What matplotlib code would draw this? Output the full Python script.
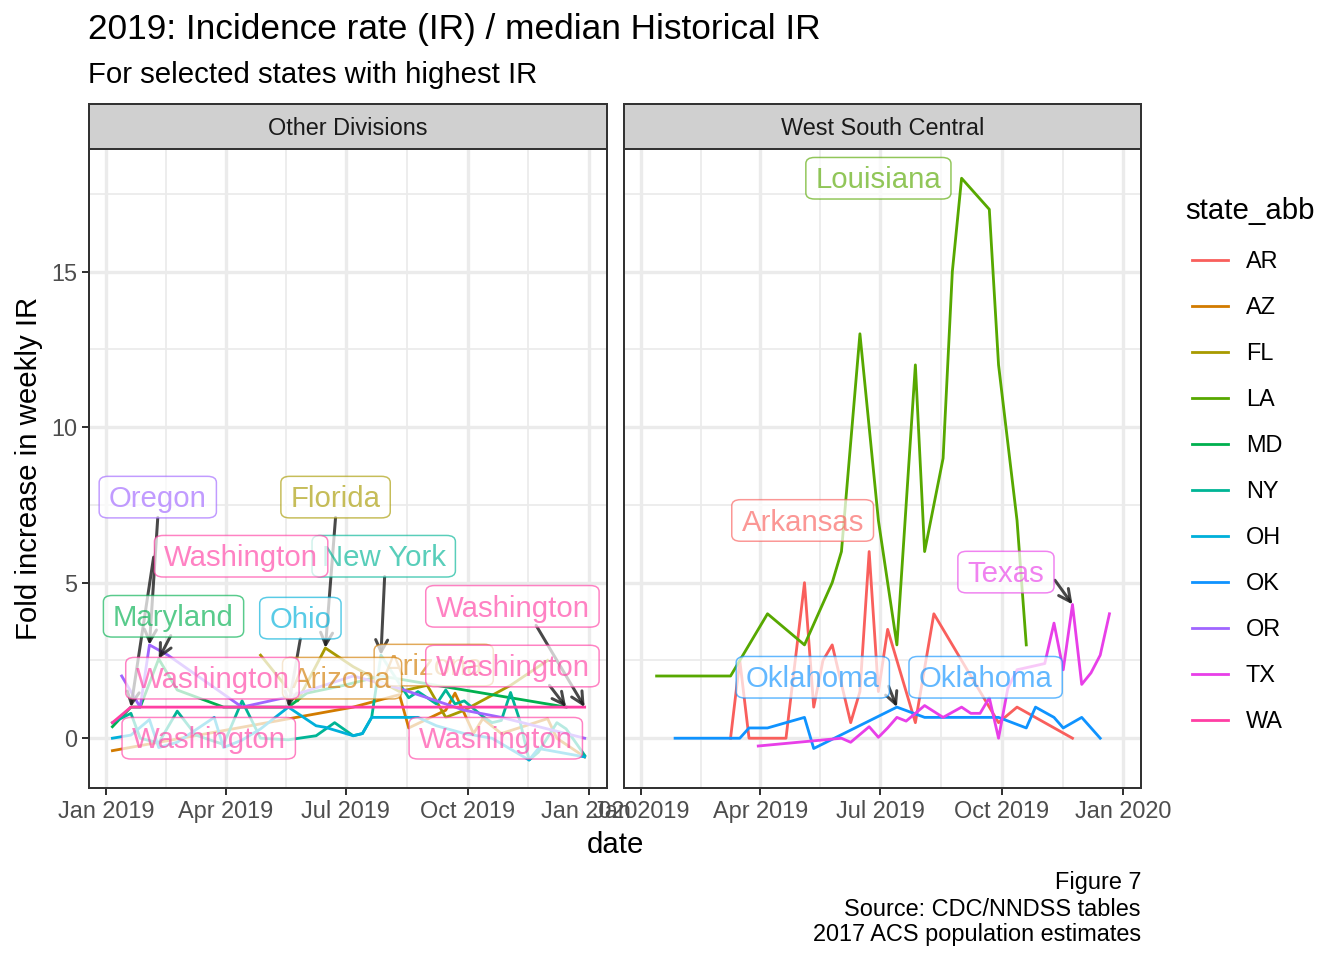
"""
2019 fold increase in weekly incidence rate, faceted by division.
"""

import matplotlib
matplotlib.use("Agg")
import matplotlib.dates as mdates
import matplotlib.pyplot as plt
import numpy as np
import pandas as pd
from matplotlib.colors import to_rgba
from matplotlib.lines import Line2D
from matplotlib.ticker import FixedLocator

plt.rcParams["font.family"] = ["Liberation Sans", "DejaVu Sans"]

# MMWR week numbers and values per state
az_weeks = [1, 27, 32, 33, 37, 38, 40, 41, 43, 48, 49, 52]
az_vals = [-0.4, 1.0, 1.4, 0.33, 0.9, 1.45, 0.15, 0.63, 0.15, 0.63, 0.0, -0.6]
fl_weeks = [17, 21, 24, 27, 32, 35, 37, 39, 44, 48]
fl_vals = [2.67, 1.2, 2.9, 2.3, 1.5, 1.7, 0.67, 0.9, 1.7, 2.5]
md_weeks = [1, 3, 4, 6, 8, 13, 15, 20, 22, 26, 30, 36, 50]
md_vals = [0.37, 1, 1, 2.55, 1.55, 1, 1, 1, 1.45, 1.7, 2, 1.7, 1]
ny_weeks = [1, 3, 4, 6, 8, 10, 13, 15, 17, 20, 23, 25, 27, 28, 29, 30, 32, 33, 34, 36, 37, 38, 39, 41, 42, 43, 44, 45, 46, 47, 49, 50, 52]
ny_vals = [0.5, 0.8, 0, -0.15, 0.87, 0.1, -0.2, 1.2, 0, -0.05, 0.08, 0.5, 0.08, 0.15, 0.67, 2.67, 1.75, 1.3, 1.5, 1.1, 1.55, 1.1, 1.2, 0.7, 0.5, 0.57, 1.47, 0.57, -0.7, -0.45, 0.5, 0.3, -0.55]
oh_weeks = [1, 3, 5, 6, 8, 12, 13, 15, 17, 20, 23, 24, 27, 28, 29, 34, 36, 39, 42, 46, 47, 52]
oh_vals = [0, 0.1, 0.6, -0.3, -0.13, 0.67, -0.3, -0.06, 0.3, 1, 0.4, 0.35, 0.08, 0.15, 0.67, 0.67, 0.4, 0.15, 0, -0.7, -0.33, -0.6]
or_weeks = [2, 4, 5, 7, 15, 20, 27, 32, 39, 43, 52]
or_vals = [2, 1, 3, 2.67, 1, 1.33, 2, 1.6, 0.9, 0.67, 0]
wa_weeks = [1, 3, 52]
wa_vals = [0.5, 1, 1]

ar_weeks = [10, 11, 12, 16, 18, 19, 20, 21, 23, 24, 25, 26, 27, 30, 32, 39, 41, 47]
ar_vals = [0, 2.5, 0, 0, 5, 1, 2.5, 3, 0.5, 1.5, 6, 1.5, 3.5, 0.5, 4, 0.5, 1, 0]
la_weeks = [2, 10, 14, 18, 21, 22, 24, 26, 28, 30, 31, 33, 34, 35, 38, 39, 41, 42]
la_vals = [2, 2, 4, 3, 5, 6, 13, 7, 3, 12, 6, 9, 15, 18, 17, 12, 7, 3]
ok_weeks = [4, 11, 12, 14, 18, 19, 28, 31, 39, 42, 43, 45, 46, 48, 50]
ok_vals = [0, 0, 0.33, 0.33, 0.67, -0.33, 1, 0.67, 0.67, 0.33, 1, 0.67, 0.33, 0.67, 0]
tx_weeks = [13, 22, 23, 25, 26, 27, 28, 29, 31, 33, 35, 36, 37, 38, 39, 40, 41, 44, 45, 46, 47, 48, 49, 50, 51]
tx_vals = [-0.25, 0, -0.13, 0.37, 0.03, 0.33, 0.67, 0.55, 1.05, 0.67, 1, 0.8, 0.8, 1.3, 0, 1.6, 2.2, 2.4, 3.7, 2.2, 4.3, 1.73, 2.1, 2.67, 4]

state_names = ["AR", "AZ", "FL", "LA", "MD", "NY", "OH", "OK", "OR", "TX", "WA"]
state_colors = ["#F95F5C", "#D27B00", "#A89A00", "#57A800", "#00B04F", "#00B596", "#00B0DA", "#0F93FF", "#A066FF", "#E83FE8", "#FF3FA4"]
color = dict(zip(state_names, state_colors))

left_series = [("AZ", az_weeks, az_vals), ("FL", fl_weeks, fl_vals), ("MD", md_weeks, md_vals),
               ("NY", ny_weeks, ny_vals), ("OH", oh_weeks, oh_vals), ("OR", or_weeks, or_vals),
               ("WA", wa_weeks, wa_vals)]
right_series = [("AR", ar_weeks, ar_vals), ("LA", la_weeks, la_vals), ("OK", ok_weeks, ok_vals),
                ("TX", tx_weeks, tx_vals)]

# label text, state, week, value (later labels cover earlier ones)
left_labels = [("Oregon", "OR", 5.9, 7.75), ("Florida", "FL", 25.1, 7.75),
               ("New York", "NY", 30.3, 5.85), ("Washington", "WA", 14.9, 5.85),
               ("Maryland", "MD", 7.6, 3.92), ("Ohio", "OH", 21.3, 3.86),
               ("Arizona", "AZ", 35.7, 2.35), ("Arizona", "AZ", 25.8, 1.93),
               ("Washington", "WA", 44.2, 4.24), ("Washington", "WA", 44.2, 2.32),
               ("Washington", "WA", 11.8, 1.93), ("Washington", "WA", 11.4, 0),
               ("Washington", "WA", 42.4, 0)]
right_labels = [("Louisiana", "LA", 26.0, 18.0), ("Arkansas", "AR", 17.8, 7.0),
                ("Oklahoma", "OK", 18.9, 1.96), ("Oklahoma", "OK", 37.6, 1.96),
                ("Texas", "TX", 39.8, 5.34)]

# arrow start week, start value, end week, end value
left_arrows = [(5.9, 7.1, 5, 3), (25.1, 7.1, 24, 2.9), (5.45, 5.82, 3, 1), (7.3, 3.3, 6, 2.55),
               (21.3, 3.2, 20, 1), (30.4, 5.2, 30, 2.67), (46.75, 3.63, 52, 1), (48.2, 1.7, 50, 1)]
right_arrows = [(27.1, 1.67, 28, 1), (45.1, 5.08, 47, 4.3)]

LINE_W = 1.4


def week_x(week):
    return mdates.date2num(pd.Timestamp("2019-01-05 12:00")) + 7 * (np.asarray(week, dtype=float) - 1)


W, H = 1344, 960
fig = plt.figure(figsize=(W / 144, H / 144), dpi=144)


def px_axes(x0, y0, x1, y1):
    return fig.add_axes([x0 / W, 1 - y1 / H, (x1 - x0) / W, (y1 - y0) / H])


start = mdates.date2num(pd.Timestamp("2019-01-01"))
major = [mdates.date2num(pd.Timestamp(d)) for d in ["2019-01-01", "2019-04-01", "2019-07-01", "2019-10-01", "2020-01-01"]]
minor = [(a + b) / 2 for a, b in zip(major[:-1], major[1:])]


def draw_panel(x0, x1, title, series, labels, arrows, show_y):
    ax = px_axes(x0, 149, x1, 788)
    ax.set_xlim(start - 13.2, start + 378.4)
    ax.set_ylim(-1.6, 18.94)
    ax.xaxis.set_major_locator(FixedLocator(major))
    ax.xaxis.set_minor_locator(FixedLocator(minor))
    ax.xaxis.set_major_formatter(mdates.DateFormatter("%b %Y"))
    ax.yaxis.set_major_locator(FixedLocator([0, 5, 10, 15]))
    ax.yaxis.set_minor_locator(FixedLocator([2.5, 7.5, 12.5, 17.5]))
    ax.grid(which="major", color="#EBEBEB", lw=1.7, zorder=0)
    ax.grid(which="minor", color="#EBEBEB", lw=0.9, zorder=0)
    ax.set_axisbelow(True)
    ax.tick_params(which="minor", length=0)
    ax.tick_params(which="major", length=3.5, width=1, color="#333333", labelcolor="#4D4D4D", labelsize=11.74, pad=2.6)
    if not show_y:
        ax.tick_params(axis="y", which="major", length=0, labelleft=False)
    for spine in ax.spines.values():
        spine.set_color("#333333")
        spine.set_linewidth(1.0)

    for state, weeks, vals in series:
        ax.plot(week_x(weeks), vals, color=color[state], lw=LINE_W, zorder=3, solid_joinstyle="round")

    for sx, sy, ex, ey in arrows:
        ax.annotate("", xy=(week_x(ex), ey), xytext=(week_x(sx), sy), zorder=4,
                    arrowprops=dict(arrowstyle="->,head_length=0.6,head_width=0.3", color=(0.1, 0.1, 0.1, 0.8),
                                    lw=1.5, shrinkA=0, shrinkB=0))

    # box and text drawn apart so the word can sit a little lower in its box
    for i, (text, state, week, val) in enumerate(labels):
        z = 5 + i * 0.1
        ax.text(week_x(week), val, text, ha="center", va="center", fontsize=14.67, zorder=z,
                color=(1, 1, 1, 0),
                bbox=dict(boxstyle="round,pad=0.33,rounding_size=0.3", mutation_aspect=0.7, facecolor=(1, 1, 1, 0.72),
                          edgecolor=to_rgba(color[state], 0.65), lw=0.75))
        ax.annotate(text, xy=(week_x(week), val), xytext=(0, -1.1), textcoords="offset points",
                    ha="center", va="center", fontsize=14.67, zorder=z + 0.05, color=to_rgba(color[state], 0.65))

    strip = px_axes(x0, 104, x1, 149)
    strip.set_facecolor("#D0D0D0")
    strip.set_xticks([])
    strip.set_yticks([])
    for spine in strip.spines.values():
        spine.set_color("#333333")
        spine.set_linewidth(1.0)
    strip.text(0.5, 0.46, title, transform=strip.transAxes, ha="center", va="center", fontsize=11.74, color="#1A1A1A")
    return ax


draw_panel(89, 607, "Other Divisions", left_series, left_labels, left_arrows, True)
draw_panel(624, 1141, "West South Central", right_series, right_labels, right_arrows, False)

fig.text(88 / W, 1 - 30 / H, "2019: Incidence rate (IR) / median Historical IR", fontsize=17.6, va="center", ha="left")
fig.text(88 / W, 1 - 75 / H, "For selected states with highest IR", fontsize=14.67, va="center", ha="left")
fig.text(615 / W, 1 - 845 / H, "date", fontsize=14.67, ha="center", va="center")
fig.text(29 / W, 1 - 468 / H, "Fold increase in weekly IR", fontsize=14.67, rotation=90, ha="center", va="center")
fig.text(1141 / W, 1 - 883 / H, "Figure 7", fontsize=11.74, ha="right", va="center")
fig.text(1141 / W, 1 - 910 / H, "Source: CDC/NNDSS tables", fontsize=11.74, ha="right", va="center")
fig.text(1141 / W, 1 - 935 / H, "2017 ACS population estimates", fontsize=11.74, ha="right", va="center")

fig.text(1185 / W, 1 - 211 / H, "state_abb", fontsize=14.67, ha="left", va="center")
handles = [Line2D([], [], color=c, lw=LINE_W) for c in state_colors]
fig.legend(handles, state_names, loc="upper left", bbox_to_anchor=(1192 / W, 1 - 250 / H), frameon=False,
           fontsize=11.74, handlelength=1.55, handletextpad=0.74, labelspacing=0.98, borderpad=0, borderaxespad=0)

fig.savefig("out.png", dpi=144)
